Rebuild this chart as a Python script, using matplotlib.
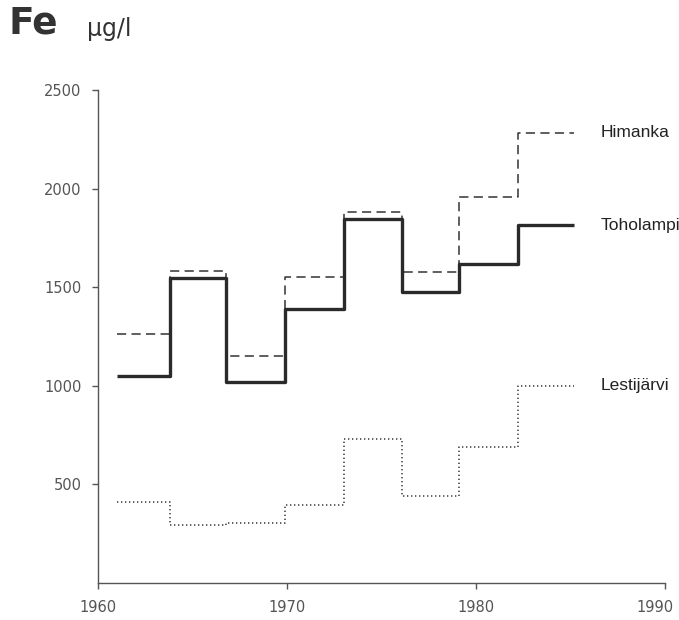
import matplotlib
matplotlib.use("Agg")
import matplotlib.pyplot as plt
import matplotlib.transforms as mtransforms
import numpy as np

# step edges (years) and period levels, Fe ug/l
edges = [1961, 1963.8, 1966.8, 1969.9, 1973.0, 1976.1, 1979.1, 1982.2, 1985.2]
himanka = [1260, 1580, 1153, 1550, 1880, 1575, 1956, 2283]
toholampi = [1050, 1545, 1020, 1387, 1845, 1474, 1618, 1814]
lestijarvi = [413, 295, 305, 396, 732, 442, 691, 1001]
names = ["Himanka", "Toholampi", "Lestijärvi"]

xticks = [1960, 1970, 1980, 1990]
yticks = [500, 1000, 1500, 2000, 2500]

fig = plt.figure(figsize=(6.79, 6.2), dpi=100)
ax = fig.add_axes([0.1443, 0.0597, 0.8350, 0.7953])

def stepline(vals, **kw):
    ax.step(edges, list(vals) + [vals[-1]], where="post", **kw)

stepline(himanka, color="#333333", lw=1.1, linestyle=(0, (6, 3.5)))
stepline(toholampi, color="#2a2a2a", lw=2.4, solid_capstyle="butt")
stepline(lestijarvi, color="#444444", lw=1.2, linestyle=(0, (0.8, 1.6)))

for name, vals in zip(names, [himanka, toholampi, lestijarvi]):
    ax.text(1986.6, vals[-1], name, fontsize=12.5, fontfamily="Liberation Sans",
            color="#222222", va="center", ha="left")

ax.set_xlim(1960, 1990)
ax.set_ylim(0, 2500)
ax.set_xticks(xticks)
ax.set_yticks(yticks)
ax.spines["top"].set_visible(False)
ax.spines["right"].set_visible(False)
for s in ["left", "bottom"]:
    ax.spines[s].set_color("#555555")
    ax.spines[s].set_linewidth(1.0)
ax.tick_params(axis="both", direction="out", length=4, width=1.0,
               color="#555555", labelcolor="#555555", labelsize=10.5)
ax.tick_params(axis="x", pad=8)
ax.tick_params(axis="y", pad=8)

# last x label sits at the right edge; nudge it in so it is not clipped
last = ax.get_xticklabels()[-1]
last.set_transform(last.get_transform() +
                   mtransforms.ScaledTranslation(-0.1, 0, fig.dpi_scale_trans))

fig.text(0.012, 0.962, "Fe", fontsize=27, fontweight="bold", color="#333333",
         va="center", ha="left")
fig.text(0.128, 0.953, "µg/l", fontsize=17, color="#333333",
         va="center", ha="left")

fig.savefig("out.png", dpi=100)
